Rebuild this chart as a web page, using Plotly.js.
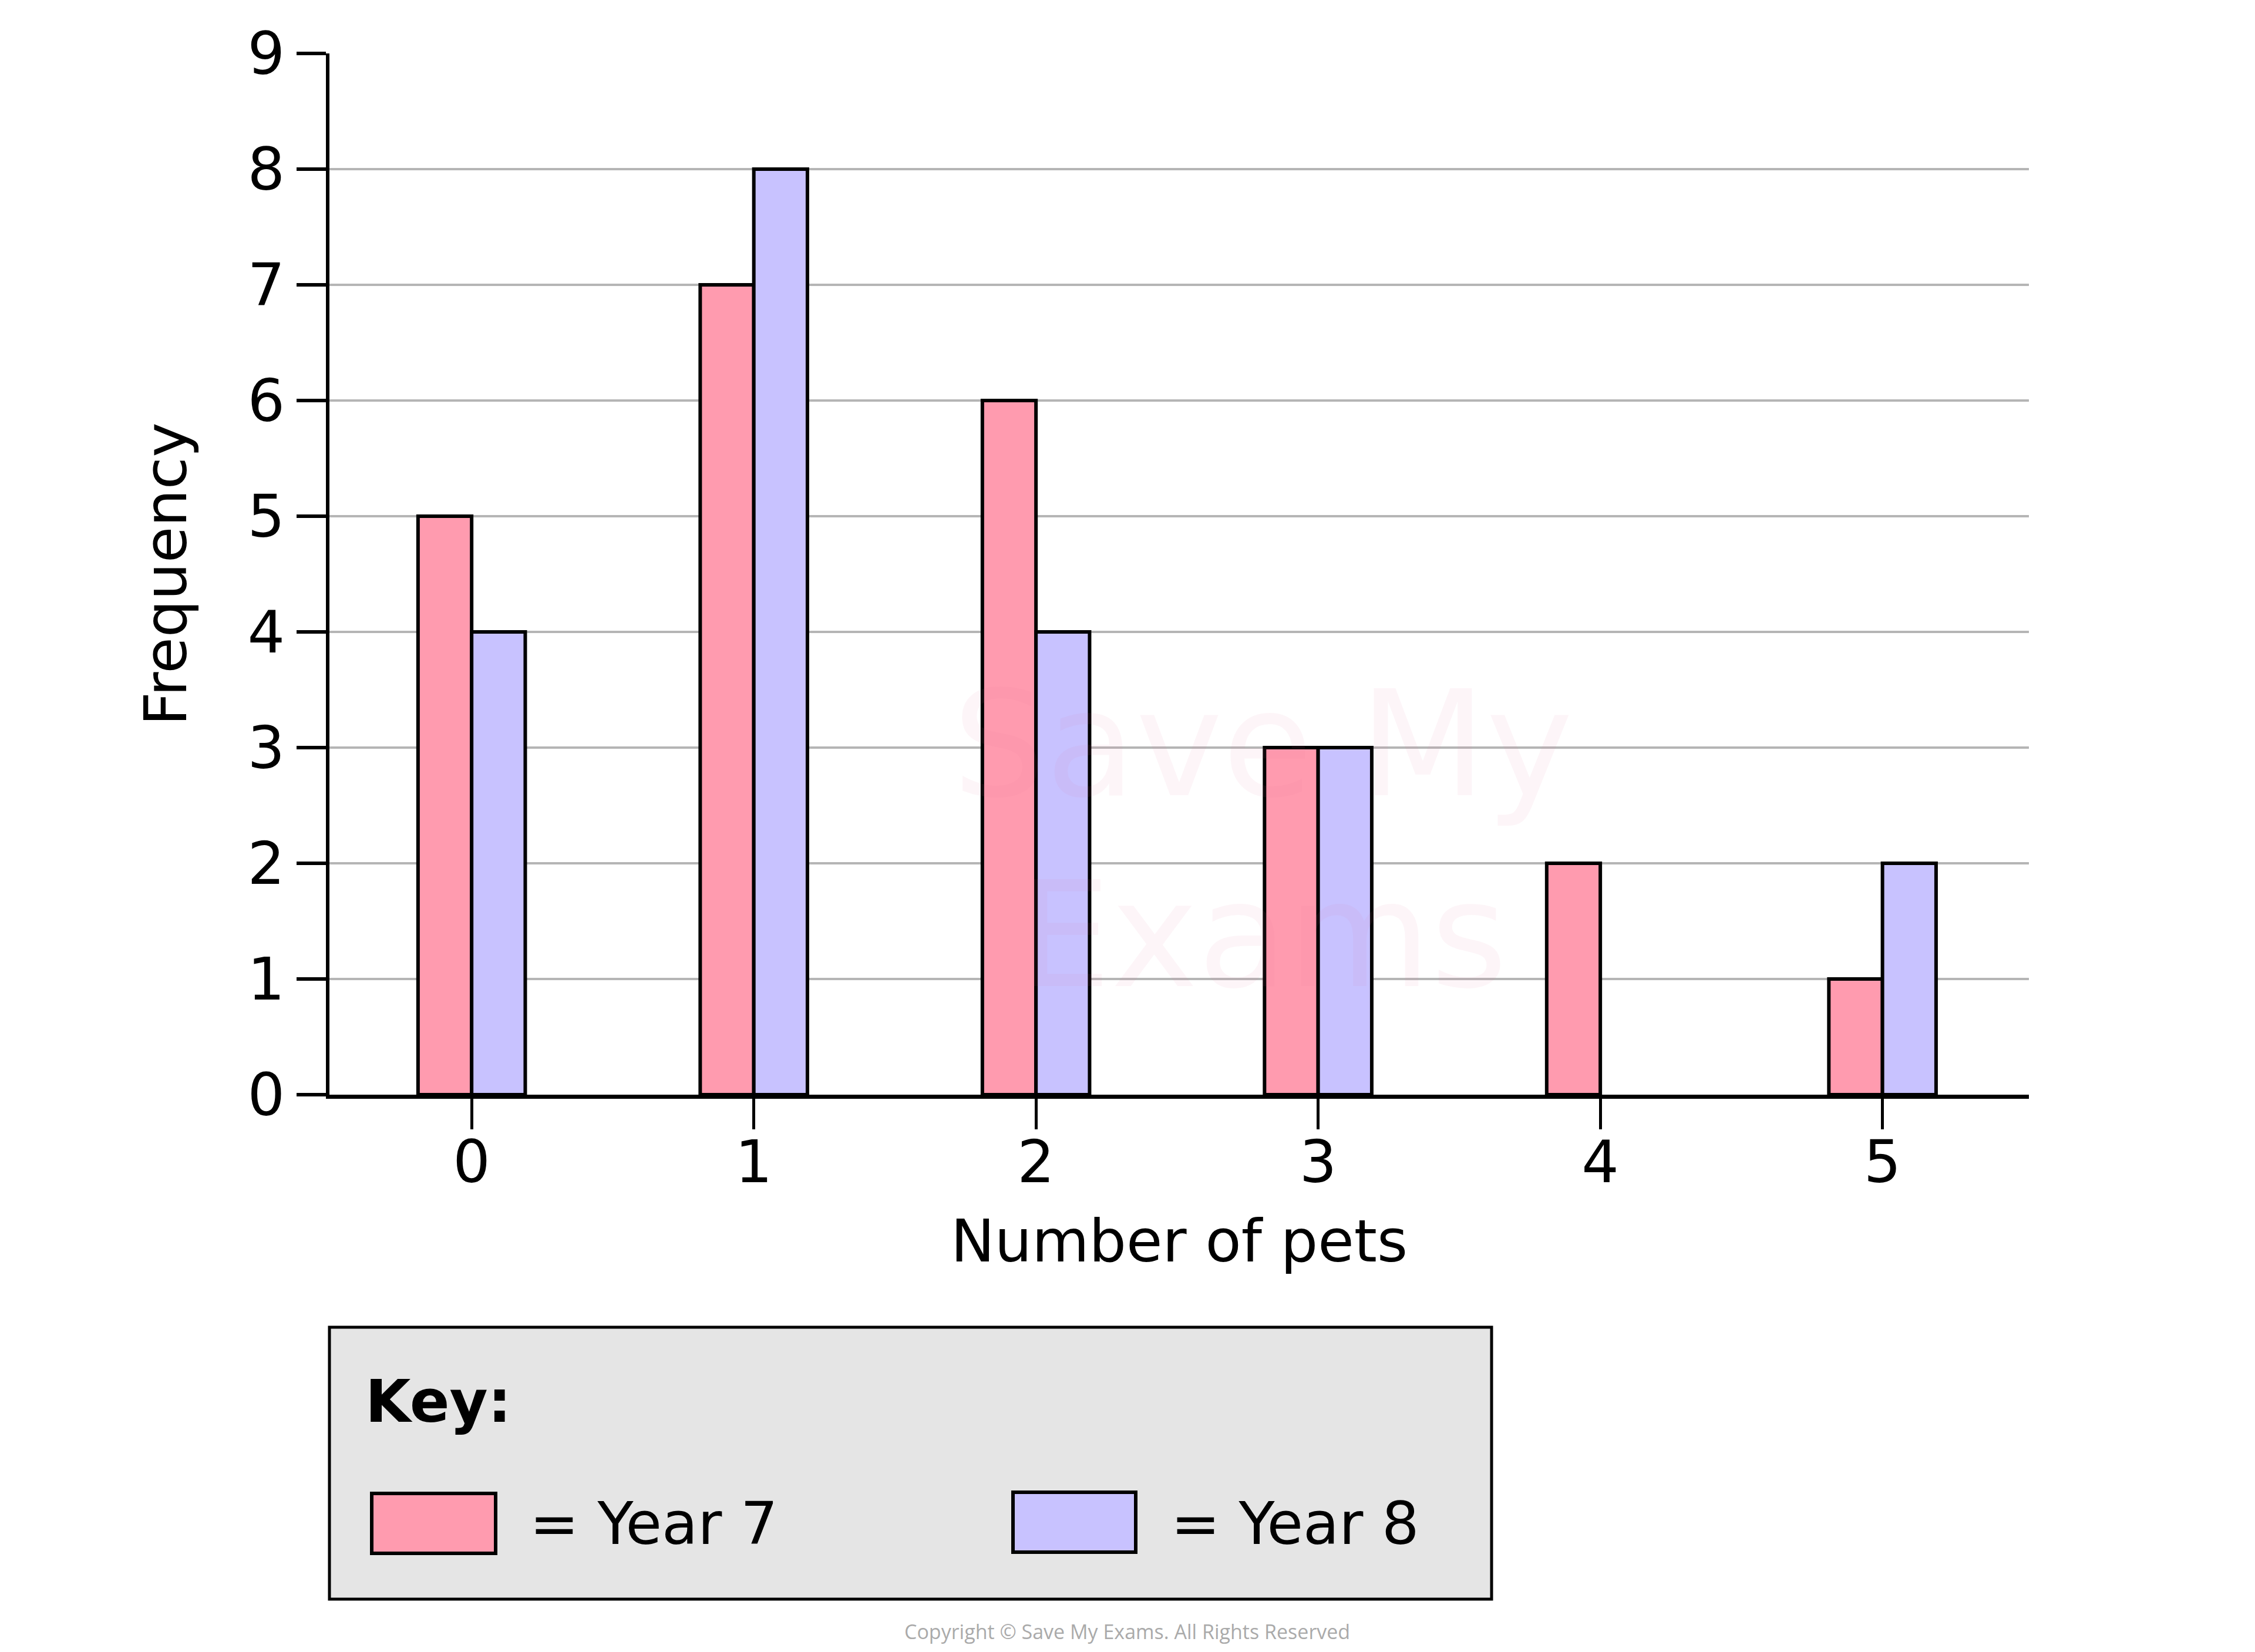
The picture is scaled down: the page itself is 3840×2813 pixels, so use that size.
<!DOCTYPE html>
<html>
<head>
<meta charset="utf-8">
<script src="https://cdn.plot.ly/plotly-3.0.1.min.js"></script>
<style>
  html, body { margin: 0; padding: 0; background: #ffffff; }
  #chart { width: 3840px; height: 2813px; }
</style>
</head>
<body>
<div id="chart"></div>
<script>
// data
const petCounts = [0, 1, 2, 3, 4, 5];
const tickLabels = ["0", "1", "2", "3", "4", "5"];
const year7 = [5, 7, 6, 3, 2, 1];
const year8 = [4, 8, 4, 3, 0, 2];
const seriesNames = ["Year 7", "Year 8"];

const pink = "#FF9BAF";
const lilac = "#C8C2FF";
const font = "DejaVu Sans, sans-serif";

// plot area in page pixels, used to place the hand-drawn key box
const W = 3840, H = 2813;
const plotL = 561, plotR = 3455, plotT = 91, plotB = 1864;
const px = x => (x - plotL) / (plotR - plotL);
const py = y => (plotB - y) / (plotB - plotT);

// no outline on empty bars, otherwise a stub shows on the axis
const outline = vals => vals.map(v => (v > 0 ? 6 : 0));

const traces = [
  {
    type: "bar", name: seriesNames[0], x: petCounts, y: year7,
    marker: { color: pink, line: { color: "#000", width: outline(year7) } },
    showlegend: false
  },
  {
    type: "bar", name: seriesNames[1], x: petCounts, y: year8,
    marker: { color: lilac, line: { color: "#000", width: outline(year8) } },
    showlegend: false
  }
];

const rect = (x0, y0, x1, y1, fill, w) => ({
  type: "rect", xref: "paper", yref: "paper",
  x0: px(x0), x1: px(x1), y0: py(y0), y1: py(y1),
  fillcolor: fill, line: { color: "#000", width: w }
});

const note = (text, x, y, size, opts) => Object.assign({
  text: text, xref: "paper", yref: "paper", x: px(x), y: py(y),
  showarrow: false, xanchor: "left", yanchor: "middle",
  font: { family: font, size: size, color: "#000" }
}, opts || {});

const layout = {
  width: W, height: H,
  margin: { l: plotL, r: W - plotR, t: plotT, b: H - plotB },
  paper_bgcolor: "#fff", plot_bgcolor: "#fff",
  barmode: "group", bargap: 0.62, bargroupgap: 0,
  xaxis: {
    range: [-0.504, 5.519], tickvals: petCounts, ticktext: tickLabels,
    ticks: "outside", ticklen: 52, tickwidth: 5, tickcolor: "#000",
    ticklabelstandoff: -30,
    showline: true, linecolor: "#000", linewidth: 7,
    showgrid: false, zeroline: false,
    tickfont: { family: font, size: 100, color: "#000" },
    title: { text: "Number of pets", standoff: 44, font: { family: font, size: 100, color: "#000" } }
  },
  yaxis: {
    range: [0, 9], dtick: 1,
    ticks: "outside", ticklen: 50, tickwidth: 6, tickcolor: "#000",
    showline: true, linecolor: "#000", linewidth: 6,
    showgrid: true, gridcolor: "#b5b5b5", gridwidth: 4, zeroline: false,
    tickfont: { family: font, size: 100, color: "#000" },
    title: { text: "Frequency", standoff: 72, font: { family: font, size: 100, color: "#000" } }
  },
  shapes: [
    rect(561, 2260, 2540, 2723, "#E5E5E5", 5),
    rect(633, 2543, 844, 2645, pink, 6),
    rect(1725, 2541, 1934, 2643, lilac, 6)
  ],
  annotations: [
    note("<b>Key:</b>", 620, 2386, 100),
    note("= " + seriesNames[0], 900, 2594, 100),
    note("= " + seriesNames[1], 1992, 2594, 100),
    note("Copyright © Save My Exams. All Rights Reserved", 1919, 2778, 34,
      { xanchor: "center", font: { family: "Open Sans, sans-serif", size: 34, color: "#aaaaaa" } }),
    note("Save My<br>Exams", 2150, 1430, 250,
      { xanchor: "center", font: { family: font, size: 250, color: "rgba(230,120,150,0.07)" } })
  ]
};

Plotly.newPlot("chart", traces, layout, { staticPlot: true, displayModeBar: false });
</script>
</body>
</html>
